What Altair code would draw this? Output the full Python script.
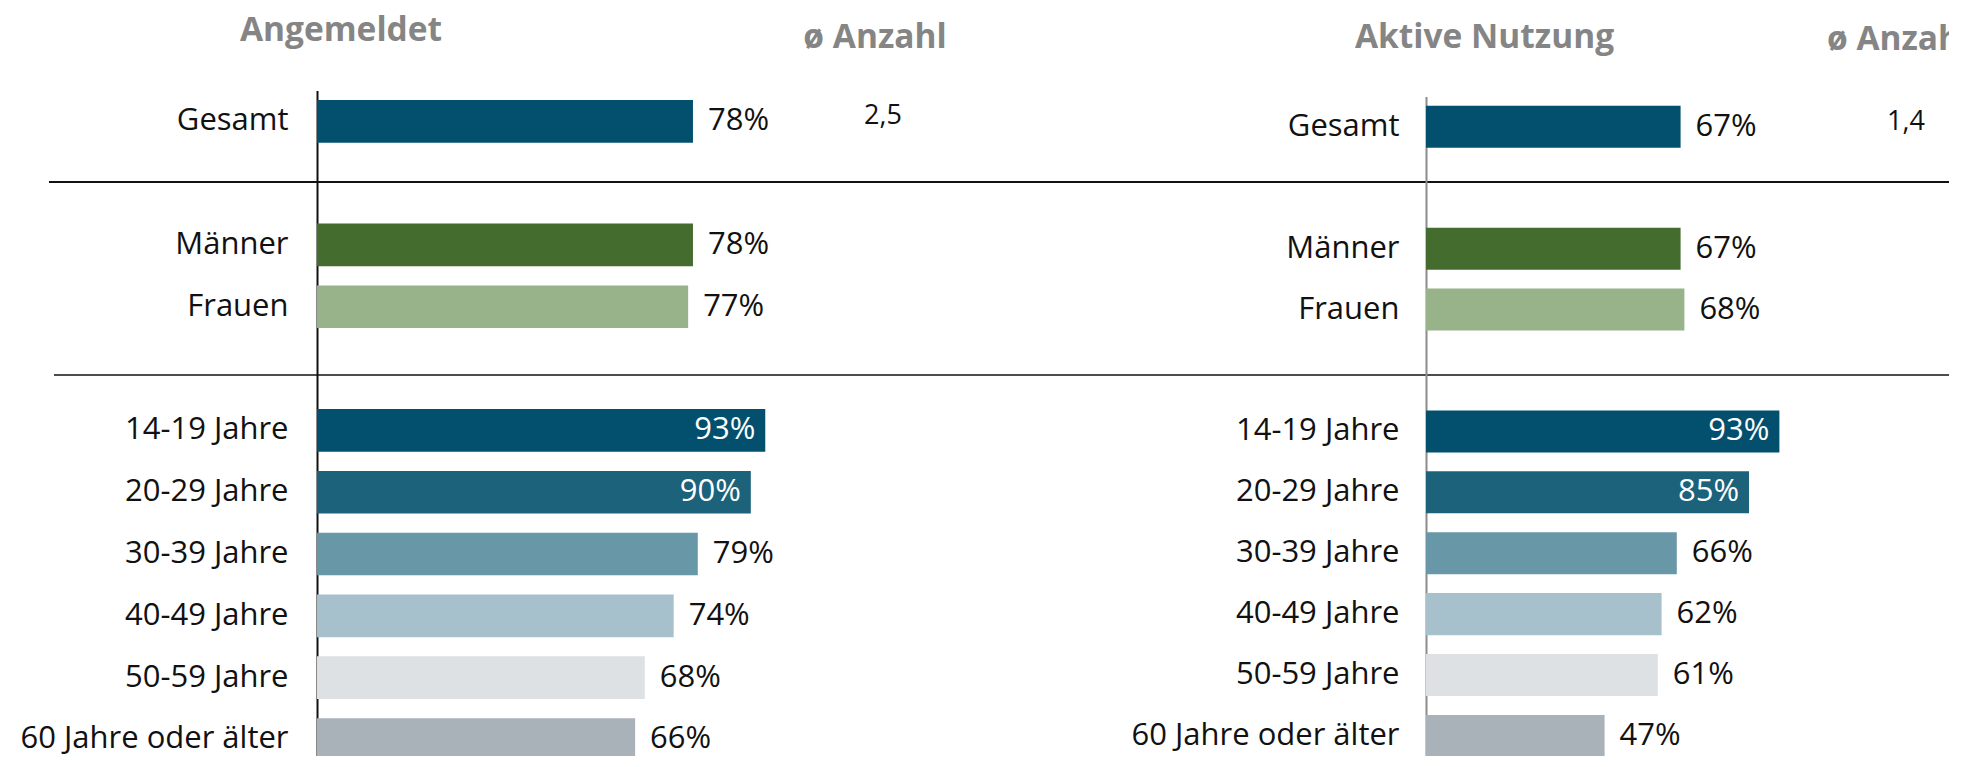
import altair as alt
import pandas as pd

# ---------------- data ----------------
categories = ["Gesamt", "Männer", "Frauen", "14-19 Jahre", "20-29 Jahre",
              "30-39 Jahre", "40-49 Jahre", "50-59 Jahre", "60 Jahre oder älter"]
angemeldet = [78, 78, 77, 93, 90, 79, 74, 68, 66]
aktive_nutzung = [67, 67, 68, 93, 85, 66, 62, 61, 47]
bar_colors = ["#03506e", "#446c2e", "#98b38a", "#03506e", "#1c627b",
              "#6897a8", "#a6c1cc", "#dde1e4", "#a9b1b9"]
headers = ["Angemeldet", "Aktive Nutzung"]
avg_header = "ø Anzahl"
avg_values = ["2,5", "1,4"]

# y order with two empty slots for the group separators
y_domain = ["Gesamt", " ", "Männer", "Frauen", "  "] + categories[3:]

FONT = "Open Sans"
TXT = "#111111"
HDR = "#858585"
FS = 31
HFS = 33.5


def panel(values, header, avg, x_px, y_range, height, width, dom_color,
          label_pad, hdr_x, hdr_y, avg_hdr_x, avg_hdr_y, avg_hdr_align, avg_x,
          separators):
    df = pd.DataFrame({"cat": categories, "val": values,
                       "lbl": [f"{v}%" for v in values]})
    base = alt.Chart(df)
    yscale = alt.Scale(domain=y_domain, range=y_range,
                       paddingInner=0.31, paddingOuter=0.155)
    xscale = alt.Scale(domain=[0, 100], range=[0, x_px])
    yaxis = alt.Axis(title=None, ticks=False, tickSize=0, labelPadding=label_pad,
                     labelFont=FONT, labelFontSize=FS, labelColor=TXT,
                     labelLimit=400, domainColor=dom_color, domainWidth=2,
                     grid=False)
    bars = base.mark_bar().encode(
        y=alt.Y("cat:N", scale=yscale, axis=yaxis),
        x=alt.X("val:Q", scale=xscale, axis=None),
        color=alt.Color("cat:N", scale=alt.Scale(domain=categories, range=bar_colors),
                        legend=None),
    )
    outside = base.transform_filter("datum.val < 85").mark_text(
        align="left", baseline="middle", dx=15, font=FONT, fontSize=FS, color=TXT
    ).encode(y="cat:N", x="val:Q", text="lbl:N")
    inside = base.transform_filter("datum.val >= 85").mark_text(
        align="right", baseline="middle", dx=-10, font=FONT, fontSize=FS, color="white"
    ).encode(y="cat:N", x="val:Q", text="lbl:N")

    hdr = alt.Chart(pd.DataFrame({"t": [header]})).mark_text(
        align="center", baseline="alphabetic", font=FONT, fontSize=HFS,
        fontWeight="bold", color=HDR
    ).encode(text="t:N", x=alt.value(hdr_x), y=alt.value(hdr_y))
    hdr2 = alt.Chart(pd.DataFrame({"t": [avg_header]})).mark_text(
        align=avg_hdr_align, baseline="alphabetic", font=FONT, fontSize=HFS,
        fontWeight="bold", color=HDR
    ).encode(text="t:N", x=alt.value(avg_hdr_x), y=alt.value(avg_hdr_y))
    avg_txt = alt.Chart(pd.DataFrame({"cat": ["Gesamt"], "t": [avg]})).mark_text(
        align="center", baseline="middle", dy=-5, font=FONT, fontSize=27, color=TXT
    ).encode(y="cat:N", x=alt.value(avg_x), text="t:N")

    layers = [bars, outside, inside, hdr, hdr2, avg_txt]
    for (yy, x0, x1, sw) in separators:
        layers.append(
            alt.Chart(pd.DataFrame({"a": [0]})).mark_rule(color="#111111", strokeWidth=sw)
            .encode(x=alt.value(x0), x2=alt.value(x1), y=alt.value(yy))
        )
    return alt.layer(*layers).properties(width=width, height=height)


left = panel(angemeldet, headers[0], avg_values[0], 482, [0, 680], 680, 1089,
             "#111111", 29, 24, -49, 558, -42.3, "center", 566,
             [(91.7, -268, 1645, 2), (284.7, -263, 1645, 1.5)])
right = panel(aktive_nutzung, headers[1], avg_values[1], 380, [6, 676], 680, 528,
              "#8c8c8c", 27, 58.5, -42.3, 401, -40.3, "left", 480, [])

chart = alt.hconcat(left, right, spacing=20, bounds="flush").properties(
    padding={"left": 11, "top": 6.4, "right": -22, "bottom": -14.5}
).configure_view(stroke=None)

chart.save("out.html", embed_options={"renderer": "svg", "actions": False})
